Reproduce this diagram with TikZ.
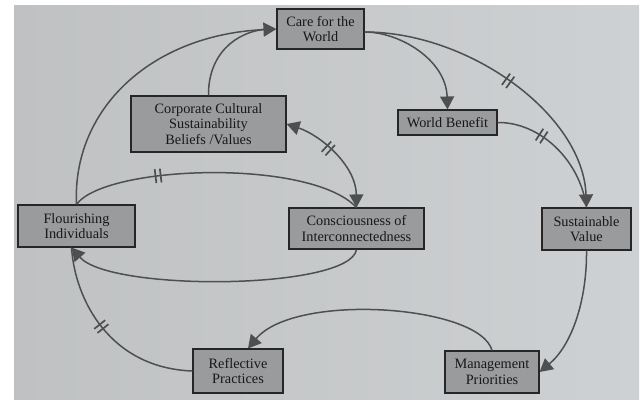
\documentclass[tikz,border=0pt]{standalone}
\usepackage{fontspec}
\setmainfont{Liberation Serif}
\usetikzlibrary{arrows.meta,decorations.markings}
\definecolor{pageL}{HTML}{BFC1C2}
\definecolor{pageR}{HTML}{CED1D3}
\definecolor{boxfill}{HTML}{999B9C}
\definecolor{boxline}{HTML}{262626}
\definecolor{ink}{HTML}{181818}
\definecolor{linec}{HTML}{4E4F50}
\tikzset{
  box/.style={draw=boxline, line width=1.1pt, fill=boxfill, text=ink,
    align=center, inner sep=0pt, font=\fontsize{14.3}{15.5}\selectfont},
  link/.style={draw=linec, line width=1.5pt},
  tip/.style={-{Triangle[length=13pt,width=14pt]}},
  bothtips/.style={{Triangle[length=13pt,width=14pt]}-{Triangle[length=13pt,width=14pt]}},
  hash/.style={postaction={decorate,decoration={markings,
    mark=at position #1 with {\draw[-,linec,line width=1.7pt]
      (-2.6pt,-7pt)--(-2.6pt,7pt) (2.6pt,-7pt)--(2.6pt,7pt);}}}}
}
\begin{document}
\begin{tikzpicture}[x=1pt,y=-1pt]
\useasboundingbox (0,0) rectangle (644,399);
\fill[white] (0,0) rectangle (644,399);
\shade[left color=pageL,right color=pageR] (14,5) rectangle (639,399);

% boxes
\node[box, minimum width=87pt,  minimum height=40pt] (care)  at (320.5,29)  {Care for the\\World};
\node[box, minimum width=155pt, minimum height=56pt] (corp)  at (208.5,124) {Corporate Cultural\\Sustainability\\Beliefs /Values};
\node[box, minimum width=99pt,  minimum height=25pt] (wb)    at (447.5,122.5) {World Benefit};
\node[box, minimum width=117pt, minimum height=42pt] (flour) at (76.5,226)  {Flourishing\\Individuals};
\node[box, minimum width=135pt, minimum height=41pt] (cons)  at (356.5,228.5) {Consciousness of\\Interconnectedness};
\node[box, minimum width=89pt,  minimum height=42pt] (sv)    at (586.5,229)  {Sustainable\\Value};
\node[box, minimum width=90pt,  minimum height=44pt] (refl)  at (238,371)   {Reflective\\Practices};
\node[box, minimum width=94pt,  minimum height=42pt] (mgmt)  at (492,372)   {Management\\Priorities};

\coordinate (fb) at ([xshift=-5pt]flour.south);
\coordinate (cr) at ([yshift=-3pt]care.east);

% connectors
\draw[link,tip] (flour.north) .. controls (72,110) and (150,35) .. (care.west);
\draw[link] (corp.north) .. controls (208,55) and (235,31) .. ([xshift=-8pt]care.west);
\draw[link,tip] (cr) .. controls (400,32) and (446,60) .. (wb.north);
\draw[link,tip,hash=0.5] (cr) .. controls (470,32) and (583,115) .. (sv.north);
\draw[link,hash=0.35] (wb.east) .. controls (540,122) and (580,160) .. (sv.north);
\draw[link,bothtips,hash=0.42] (corp.east) .. controls (320,135) and (356,165) .. (cons.north);
\draw[link,hash=0.3] (flour.north) .. controls (105,165) and (310,158) .. (cons.north);
\draw[link,tip] (cons.south) .. controls (350,290) and (110,292) .. (fb);
\draw[link,hash=0.55] (refl.west) .. controls (110,368) and (75,300) .. (fb);
\draw[link,tip] (sv.south) .. controls (587,300) and (572,345) .. (mgmt.east);
\draw[link,tip] (mgmt.north) .. controls (480,305) and (295,292) .. ([xshift=10pt]refl.north);
\end{tikzpicture}
\end{document}
